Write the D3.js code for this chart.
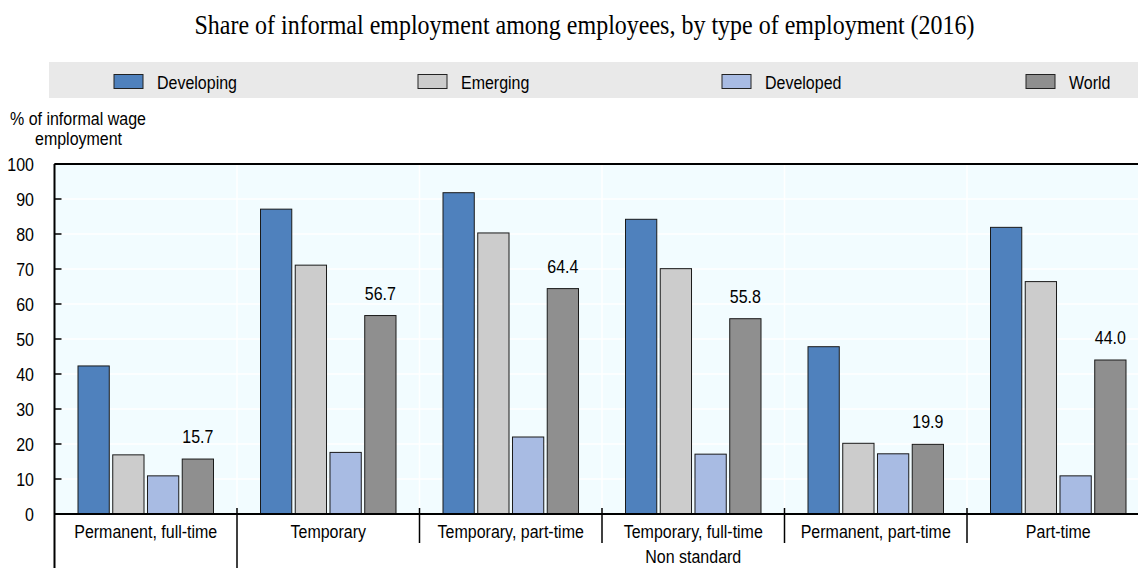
<!DOCTYPE html>
<html>
<head>
<meta charset="utf-8">
<script src="https://cdn.jsdelivr.net/npm/d3@7"></script>
<style>
  body { margin: 0; background: #fff; }
  svg { display: block; }
  text { font-family: "Liberation Sans", Arial, sans-serif; fill: #000; font-size: 16px; }
</style>
</head>
<body>
<svg width="1138" height="568"></svg>
<script>
// chart data
const categories = ["Permanent, full-time", "Temporary", "Temporary, part-time", "Temporary, full-time", "Permanent, part-time", "Part-time"];
const seriesNames = ["Developing", "Emerging", "Developed", "World"];
const developing = [42.3, 87.1, 91.8, 84.2, 47.8, 81.9];
const emerging = [16.9, 71.1, 80.3, 70.1, 20.2, 66.4];
const developed = [10.9, 17.6, 22.0, 17.1, 17.2, 10.9];
const world = [15.7, 56.7, 64.4, 55.8, 19.9, 44.0];
const yTicks = [0, 10, 20, 30, 40, 50, 60, 70, 80, 90, 100];

const colors = ["#4f81bd", "#cccccc", "#a8bbe3", "#8f8f8f"];
const values = [developing, emerging, developed, world];

const svg = d3.select("svg");

// plot box
const plotL = 54.5, plotT = 164, plotB = 514, plotR = 1149.5;

const x0 = d3.scaleBand().domain(categories).range([plotL, plotR]);
const x1 = d3.scaleBand().domain(seriesNames).range([23.5, x0.bandwidth() - 23.5]).paddingInner(0.1);
const y = d3.scaleLinear().domain([0, 100]).range([plotB, plotT]);

// the original text is a bit taller than wide, so stretch glyphs vertically
const sy = 1.12;
function place(x, yy) {
  return `translate(${x},${yy}) scale(1,${sy})`;
}

// title
svg.append("text")
  .attr("transform", place(584.5, 34))
  .attr("text-anchor", "middle")
  .style("font-family", "'Liberation Serif', 'Times New Roman', serif")
  .style("font-size", "24px")
  .text("Share of informal employment among employees, by type of employment (2016)");

// legend band
svg.append("rect")
  .attr("x", 49).attr("y", 62)
  .attr("width", 1138 - 49).attr("height", 36)
  .attr("fill", "#e9e9e9");

const legend = svg.selectAll("g.legend")
  .data(seriesNames)
  .join("g")
  .attr("class", "legend")
  .attr("transform", (d, i) => `translate(${114 + i * 304},0)`);

legend.append("rect")
  .attr("x", 0).attr("y", 74.5)
  .attr("width", 29).attr("height", 14)
  .attr("fill", (d, i) => colors[i])
  .attr("stroke", "#222").attr("stroke-width", 1);

legend.append("text")
  .attr("transform", place(43, 88.5))
  .text(d => d);

// plot background
svg.append("rect")
  .attr("x", plotL).attr("y", plotT)
  .attr("width", plotR - plotL).attr("height", plotB - plotT)
  .attr("fill", "#f2fcff");

// white gridlines
svg.selectAll("line.hgrid")
  .data(yTicks.slice(1, -1))
  .join("line")
  .attr("class", "hgrid")
  .attr("x1", plotL).attr("x2", plotR)
  .attr("y1", d => y(d)).attr("y2", d => y(d))
  .attr("stroke", "#fff").attr("stroke-width", 1.5);

svg.selectAll("line.vgrid")
  .data(categories.slice(1))
  .join("line")
  .attr("class", "vgrid")
  .attr("x1", d => x0(d)).attr("x2", d => x0(d))
  .attr("y1", plotT).attr("y2", plotB)
  .attr("stroke", "#fff").attr("stroke-width", 1.5);

// bars
const groups = svg.selectAll("g.group")
  .data(categories)
  .join("g")
  .attr("class", "group")
  .attr("transform", d => `translate(${x0(d)},0)`);

groups.selectAll("rect")
  .data((d, ci) => seriesNames.map((s, si) => ({ s: s, v: values[si][ci], si: si })))
  .join("rect")
  .attr("x", d => x1(d.s))
  .attr("y", d => y(d.v))
  .attr("width", x1.bandwidth())
  .attr("height", d => y(0) - y(d.v))
  .attr("fill", d => colors[d.si])
  .attr("stroke", "#1a1a1a").attr("stroke-width", 1);

// value labels on World bars
groups.append("text")
  .attr("transform", (d, i) => place(x1("World") + x1.bandwidth() / 2, y(world[i]) - 16))
  .attr("text-anchor", "middle")
  .text((d, i) => world[i].toFixed(1));

// y axis ticks and labels
svg.selectAll("line.ytick")
  .data(yTicks)
  .join("line")
  .attr("class", "ytick")
  .attr("x1", plotL).attr("x2", plotL + 7)
  .attr("y1", d => y(d)).attr("y2", d => y(d))
  .attr("stroke", "#000").attr("stroke-width", 1.5);

svg.selectAll("text.ylab")
  .data(yTicks)
  .join("text")
  .attr("class", "ylab")
  .attr("transform", d => place(34, y(d) + 7))
  .attr("text-anchor", "end")
  .text(d => d);

svg.append("text").attr("transform", place(10, 125)).text("% of informal wage");
svg.append("text").attr("transform", place(35, 145)).text("employment");

// frame lines
svg.append("line").attr("x1", plotL).attr("x2", plotR).attr("y1", plotT).attr("y2", plotT)
  .attr("stroke", "#000").attr("stroke-width", 2);
svg.append("line").attr("x1", plotL).attr("x2", plotR).attr("y1", plotB).attr("y2", plotB)
  .attr("stroke", "#000").attr("stroke-width", 2);
svg.append("line").attr("x1", plotL).attr("x2", plotL).attr("y1", plotT).attr("y2", 568)
  .attr("stroke", "#000").attr("stroke-width", 2);

// category separators below axis
svg.selectAll("line.sep")
  .data(categories.slice(1))
  .join("line")
  .attr("class", "sep")
  .attr("x1", d => x0(d)).attr("x2", d => x0(d))
  .attr("y1", plotB - 6)
  .attr("y2", (d, i) => i === 0 ? 568 : 543)
  .attr("stroke", "#000").attr("stroke-width", 1.5);

// category labels
svg.selectAll("text.xlab")
  .data(categories)
  .join("text")
  .attr("class", "xlab")
  .attr("transform", d => place(x0(d) + x0.bandwidth() / 2, 538))
  .attr("text-anchor", "middle")
  .text(d => d);

svg.append("text")
  .attr("transform", place((x0(categories[1]) + plotR) / 2, 563))
  .attr("text-anchor", "middle")
  .text("Non standard");
</script>
</body>
</html>
